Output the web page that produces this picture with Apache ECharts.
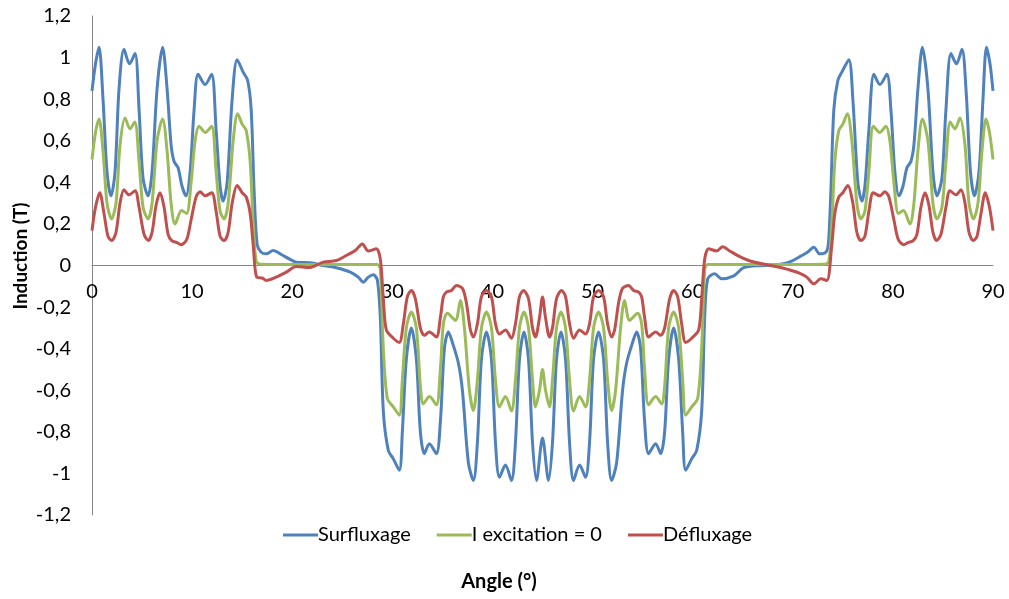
<!DOCTYPE html>
<html>
<head>
<meta charset="utf-8">
<script src="https://cdn.jsdelivr.net/npm/echarts@6/dist/echarts.min.js"></script>
<style>
html,body{margin:0;padding:0;background:#fff;}
#chart{width:1009px;height:599px;}
</style>
</head>
<body>
<div id="chart"></div>
<script>
const seriesNames = ['Surfluxage', 'I excitation = 0', 'Défluxage'];
const seriesColors = ['#4F81BD', '#9BBB59', '#C0504D'];

const surfluxage = [
[0,0.84],[0.35,0.97],[0.7,1.05],[1.1,0.80],[1.5,0.45],[1.9,0.335],[2.3,0.45],[2.7,0.85],[3.2,1.04],[3.75,0.97],[4.3,1.02],[4.7,0.75],[5.1,0.42],[5.6,0.335],[6.0,0.45],[6.5,0.85],[7.05,1.05],[7.5,0.85],[7.9,0.58],[8.2,0.50],[8.6,0.47],[9.0,0.38],[9.4,0.335],[9.8,0.45],[10.2,0.75],[10.6,0.92],[11.3,0.87],[11.95,0.92],[12.4,0.65],[12.8,0.38],[13.1,0.31],[13.5,0.40],[14.0,0.80],[14.5,0.99],[15.1,0.93],[15.55,0.89],[15.9,0.75],[16.2,0.35],[16.5,0.10],[16.9,0.064],[17.4,0.056],[18.1,0.072],[18.9,0.053],[19.7,0.032],[20.4,0.016],[21.8,0.013],[23.1,0.0],[24.4,-0.011],[25.8,-0.032],[26.6,-0.056],[27.1,-0.08],[27.6,-0.056],[28.1,-0.045],[28.5,-0.07],[28.8,-0.25],[29.1,-0.7],[29.6,-0.89],[30.1,-0.93],[30.7,-0.985],[31.0,-0.80],[31.4,-0.45],[31.9,-0.30],[32.4,-0.45],[32.8,-0.80],[33.2,-0.905],[33.7,-0.857],[34.4,-0.905],[34.8,-0.75],[35.2,-0.40],[35.6,-0.32],[36.0,-0.37],[36.6,-0.47],[37.0,-0.60],[37.6,-0.95],[38.1,-1.034],[38.5,-0.85],[38.9,-0.45],[39.4,-0.32],[39.9,-0.45],[40.3,-0.85],[40.7,-1.018],[41.3,-0.96],[41.9,-1.034],[42.3,-0.85],[42.7,-0.45],[43.15,-0.32],[43.6,-0.45],[44.0,-0.85],[44.4,-1.034],[45.0,-0.83],
[45.6,-1.034],[46.0,-0.85],[46.4,-0.45],[46.85,-0.32],[47.3,-0.45],[47.7,-0.85],[48.1,-1.034],[48.7,-0.96],[49.3,-1.018],[49.7,-0.85],[50.1,-0.45],[50.6,-0.32],[51.1,-0.45],[51.5,-0.85],[51.9,-1.034],[52.4,-0.95],[53.0,-0.60],[53.4,-0.47],[54.0,-0.37],[54.4,-0.32],[54.8,-0.40],[55.2,-0.75],[55.6,-0.905],[56.3,-0.857],[56.8,-0.905],[57.2,-0.80],[57.6,-0.45],[58.1,-0.30],[58.6,-0.45],[59.0,-0.80],[59.3,-0.985],[59.9,-0.93],[60.4,-0.89],[60.9,-0.7],[61.2,-0.25],[61.5,-0.064],[62.2,-0.04],[62.9,-0.064],[64.1,-0.05],[65.1,-0.01],[66.9,0.0],[68.2,0.003],[69.2,0.01],[70.0,0.024],[70.8,0.045],[71.5,0.065],[72.1,0.088],[72.7,0.056],[73.3,0.064],[73.55,0.10],[73.8,0.35],[74.1,0.75],[74.5,0.89],[74.9,0.93],[75.6,0.99],[76.0,0.80],[76.5,0.40],[76.9,0.31],[77.2,0.38],[77.6,0.65],[78.1,0.92],[78.7,0.87],[79.4,0.92],[79.8,0.75],[80.2,0.45],[80.6,0.335],[81.0,0.38],[81.4,0.47],[81.8,0.50],[82.1,0.58],[82.5,0.85],[82.95,1.05],[83.5,0.85],[84.0,0.45],[84.4,0.335],[84.9,0.42],[85.3,0.75],[85.8,1.02],[86.35,0.97],[86.9,1.04],[87.3,0.85],[87.75,0.45],[88.15,0.335],[88.6,0.45],[89.0,0.80],[89.35,1.05],[89.7,0.97],[90,0.84]
];

const excitationZero = [
[0,0.51],[0.35,0.64],[0.7,0.705],[1.1,0.55],[1.5,0.30],[1.95,0.224],[2.4,0.30],[2.8,0.58],[3.3,0.71],[3.8,0.657],[4.27,0.69],[4.7,0.50],[5.1,0.28],[5.6,0.224],[6.0,0.30],[6.5,0.60],[7.05,0.705],[7.5,0.55],[7.9,0.30],[8.3,0.20],[8.95,0.265],[9.45,0.25],[9.9,0.40],[10.3,0.60],[10.7,0.67],[11.3,0.64],[11.95,0.67],[12.4,0.45],[12.8,0.26],[13.2,0.224],[13.6,0.30],[14.1,0.60],[14.55,0.73],[15.0,0.68],[15.4,0.65],[15.8,0.50],[16.1,0.20],[16.4,0.02],[16.8,0.006],[20,0.005],[24,0.005],[28.5,0.005],[28.8,-0.02],[29.1,-0.4],[29.5,-0.64],[30.1,-0.68],[30.7,-0.72],[31.0,-0.55],[31.4,-0.30],[31.9,-0.224],[32.4,-0.30],[32.8,-0.58],[33.1,-0.665],[33.7,-0.63],[34.4,-0.67],[34.8,-0.50],[35.1,-0.28],[35.5,-0.23],[36.3,-0.264],[36.8,-0.168],[37.2,-0.30],[37.7,-0.60],[38.1,-0.697],[38.5,-0.55],[38.9,-0.30],[39.4,-0.224],[39.9,-0.30],[40.3,-0.55],[40.7,-0.68],[41.3,-0.63],[41.9,-0.70],[42.3,-0.55],[42.7,-0.30],[43.15,-0.224],[43.6,-0.30],[44.0,-0.55],[44.3,-0.68],[44.7,-0.60],[45.0,-0.50],
[45.3,-0.60],[45.7,-0.68],[46.0,-0.55],[46.4,-0.30],[46.85,-0.224],[47.3,-0.30],[47.7,-0.55],[48.1,-0.70],[48.7,-0.63],[49.3,-0.68],[49.7,-0.55],[50.1,-0.30],[50.6,-0.224],[51.1,-0.30],[51.5,-0.55],[51.9,-0.697],[52.3,-0.60],[52.8,-0.30],[53.2,-0.168],[53.7,-0.264],[54.5,-0.23],[54.9,-0.28],[55.2,-0.50],[55.6,-0.67],[56.3,-0.63],[56.9,-0.665],[57.2,-0.58],[57.6,-0.30],[58.1,-0.224],[58.6,-0.30],[59.0,-0.55],[59.3,-0.72],[59.9,-0.68],[60.5,-0.64],[60.9,-0.4],[61.2,-0.02],[61.5,0.005],[66,0.005],[70,0.005],[73.2,0.006],[73.6,0.02],[73.9,0.20],[74.2,0.50],[74.6,0.65],[75.0,0.68],[75.45,0.73],[75.9,0.60],[76.4,0.30],[76.8,0.224],[77.2,0.26],[77.6,0.45],[78.05,0.67],[78.7,0.64],[79.3,0.67],[79.7,0.60],[80.1,0.40],[80.55,0.25],[81.05,0.265],[81.7,0.20],[82.1,0.30],[82.5,0.55],[82.95,0.705],[83.5,0.60],[84.0,0.30],[84.4,0.224],[84.9,0.28],[85.3,0.50],[85.73,0.69],[86.2,0.657],[86.7,0.71],[87.2,0.58],[87.6,0.30],[88.05,0.224],[88.5,0.30],[88.9,0.55],[89.3,0.705],[89.65,0.64],[90,0.51]
];

const defluxage = [
[0,0.168],[0.35,0.28],[0.77,0.35],[1.2,0.25],[1.6,0.14],[1.97,0.12],[2.4,0.16],[2.8,0.30],[3.2,0.364],[3.7,0.34],[4.3,0.36],[4.7,0.28],[5.2,0.15],[5.63,0.12],[6.0,0.16],[6.4,0.29],[6.8,0.35],[7.2,0.28],[7.6,0.15],[7.97,0.12],[8.5,0.11],[8.9,0.10],[9.46,0.125],[9.9,0.22],[10.4,0.33],[10.8,0.355],[11.3,0.335],[11.96,0.35],[12.4,0.26],[12.8,0.14],[13.2,0.12],[13.6,0.16],[14.0,0.30],[14.5,0.385],[15.0,0.35],[15.4,0.33],[15.8,0.25],[16.1,0.10],[16.45,-0.056],[17.0,-0.06],[17.4,-0.072],[18.4,-0.056],[19.4,-0.032],[20.4,-0.005],[21.7,-0.01],[23.1,0.016],[24.4,0.024],[25.4,0.048],[26.3,0.072],[27.0,0.104],[27.6,0.07],[28.4,0.08],[28.8,0.03],[29.1,-0.16],[29.4,-0.31],[30.1,-0.35],[30.7,-0.37],[31.1,-0.28],[31.5,-0.15],[31.9,-0.12],[32.3,-0.16],[32.8,-0.30],[33.2,-0.336],[33.7,-0.32],[34.4,-0.344],[34.8,-0.25],[35.1,-0.15],[35.4,-0.128],[35.9,-0.12],[36.4,-0.096],[37.0,-0.11],[37.4,-0.18],[37.8,-0.31],[38.1,-0.344],[38.5,-0.28],[38.9,-0.15],[39.4,-0.12],[39.9,-0.15],[40.3,-0.28],[40.7,-0.33],[41.3,-0.31],[41.9,-0.35],[42.3,-0.28],[42.7,-0.15],[43.1,-0.12],[43.6,-0.16],[44.0,-0.30],[44.3,-0.344],[44.7,-0.25],[45.0,-0.152],
[45.3,-0.25],[45.7,-0.344],[46.0,-0.30],[46.4,-0.16],[46.9,-0.12],[47.3,-0.15],[47.7,-0.28],[48.1,-0.35],[48.7,-0.31],[49.3,-0.33],[49.7,-0.28],[50.1,-0.15],[50.6,-0.12],[51.1,-0.15],[51.5,-0.28],[51.9,-0.344],[52.2,-0.31],[52.6,-0.18],[53.0,-0.11],[53.6,-0.096],[54.1,-0.12],[54.6,-0.128],[54.9,-0.15],[55.2,-0.25],[55.6,-0.344],[56.3,-0.32],[56.8,-0.336],[57.2,-0.30],[57.7,-0.16],[58.1,-0.12],[58.5,-0.15],[58.9,-0.28],[59.3,-0.37],[59.9,-0.35],[60.6,-0.31],[60.9,-0.16],[61.2,0.03],[61.6,0.08],[62.4,0.07],[63.0,0.09],[63.7,0.07],[64.6,0.045],[65.6,0.024],[66.9,0.008],[68.3,-0.005],[69.6,-0.02],[70.6,-0.035],[71.4,-0.056],[72.1,-0.088],[72.8,-0.064],[73.4,-0.072],[73.9,0.10],[74.2,0.25],[74.6,0.33],[75.0,0.35],[75.5,0.385],[76.0,0.30],[76.4,0.16],[76.8,0.12],[77.2,0.14],[77.6,0.26],[78.04,0.35],[78.7,0.335],[79.2,0.355],[79.6,0.33],[80.1,0.22],[80.54,0.125],[81.1,0.10],[81.5,0.11],[82.03,0.12],[82.4,0.15],[82.8,0.28],[83.2,0.35],[83.6,0.29],[84.0,0.16],[84.37,0.12],[84.8,0.15],[85.3,0.28],[85.7,0.36],[86.3,0.34],[86.8,0.364],[87.2,0.30],[87.6,0.16],[88.03,0.12],[88.4,0.14],[88.8,0.25],[89.23,0.35],[89.65,0.28],[90,0.168]
];

const seriesData = [surfluxage, excitationZero, defluxage];
const xTitle = 'Angle (°)';
const yTitle = 'Induction (T)';
const FONT = 'Lato, "Open Sans", sans-serif';

const GRID = {left: 92, right: 16, top: 16, bottom: 84};
const gridH = 599 - GRID.top - GRID.bottom;

const chart = echarts.init(document.getElementById('chart'), null, {renderer: 'canvas'});
chart.setOption({
  animation: false,
  backgroundColor: '#fff',
  grid: Object.assign({containLabel: false}, GRID),
  xAxis: {
    type: 'value', min: 0, max: 90, interval: 10,
    position: 'bottom', offset: -gridH / 2,
    axisLine: {show: true, onZero: false, lineStyle: {color: '#868686', width: 1}},
    axisTick: {show: false},
    splitLine: {show: false},
    axisLabel: {color: '#000', fontSize: 20, fontFamily: FONT, margin: 16}
  },
  yAxis: {
    type: 'value', min: -1.2, max: 1.2, interval: 0.2,
    axisLine: {show: true, onZero: false, lineStyle: {color: '#868686', width: 1}},
    axisTick: {show: false},
    splitLine: {show: false},
    axisLabel: {
      color: '#000', fontSize: 20, fontFamily: FONT, margin: 21,
      formatter: v => String(Math.round(v * 10) / 10).replace('.', ',')
    }
  },
  legend: {
    top: 520, left: 278,
    icon: 'rect', itemWidth: 35, itemHeight: 3, itemGap: 26,
    textStyle: {color: '#000', fontSize: 20, fontFamily: FONT, padding: [0,0,0,-5]},
    data: seriesNames
  },
  graphic: [
    {type: 'text', x: 21, y: 256, rotation: Math.PI / 2,
     style: {text: yTitle, font: 'bold 19px ' + FONT, fill: '#000', align: 'center', verticalAlign: 'middle'}},
    {type: 'text', x: 499, y: 582,
     style: {text: xTitle, font: 'bold 20px ' + FONT, fill: '#000', align: 'center', verticalAlign: 'middle'}}
  ],
  series: seriesNames.map((name, i) => ({
    name: name, type: 'line', data: seriesData[i],
    showSymbol: false, smooth: 0.3,
    lineStyle: {width: 3, color: seriesColors[i]},
    itemStyle: {color: seriesColors[i]}
  }))
});
</script>
</body>
</html>
